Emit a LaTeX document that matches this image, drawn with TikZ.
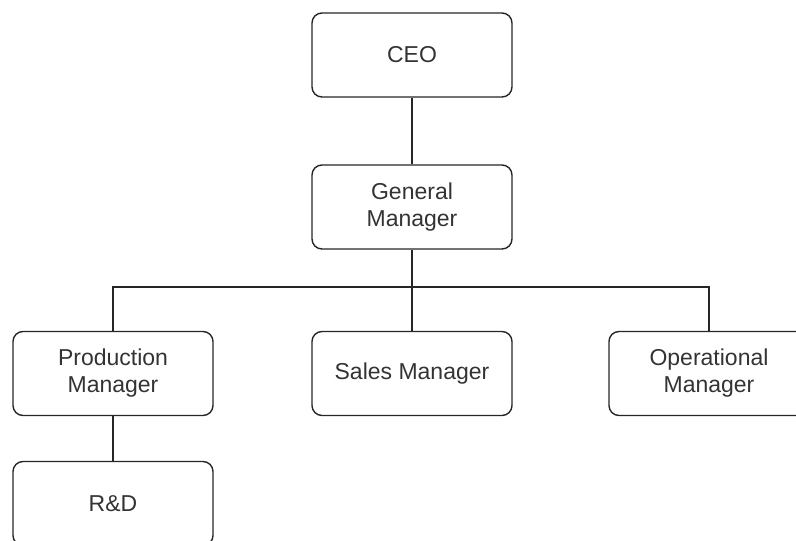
\documentclass[tikz,border=0pt]{standalone}
\usepackage{fontspec}
\setmainfont{Liberation Sans}
\usepackage{tikz}

\begin{document}
\begin{tikzpicture}[x=1pt,y=-1pt]
\useasboundingbox (0,0) rectangle (796,541);

\begin{scope}[every node/.style={draw=black!85,line width=1.4pt,rounded corners=10pt,
              minimum width=200pt,minimum height=84pt,align=center,text=black!80,
              font=\fontsize{23}{27}\selectfont}]
    \node (ceo) at (412,55) {CEO};
    \node (gm) at (412,207) {General\\Manager};
    \node (pm) at (113,373.5) {Production\\Manager};
    \node (sm) at (412,373.5) {Sales Manager};
    \node (om) at (709,373.5) {Operational\\Manager};
    \node (rd) at (113,503.5) {R\&D};
\end{scope}

\coordinate (bus) at (412,287);

\begin{scope}[every edge/.style={draw=black!85,line width=1.4pt}]
    \path (ceo) edge (gm);
    \path (gm) edge (bus);
    \path (sm) edge (bus);
    \path (pm) edge (rd);
    \draw [black!85,line width=1.4pt] (pm.north) |- (bus) -| (om.north);
\end{scope}
\end{tikzpicture}
\end{document}
